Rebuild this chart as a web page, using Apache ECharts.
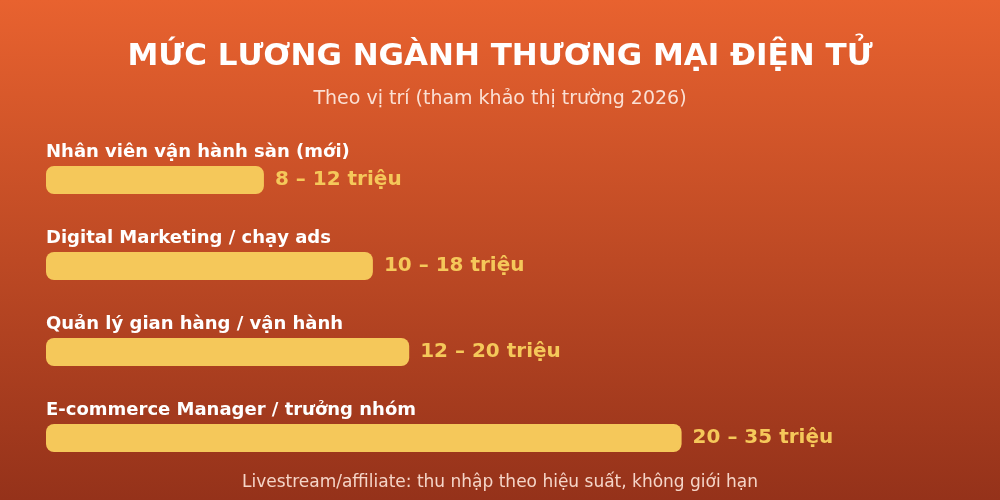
<!DOCTYPE html>
<html>
<head>
<meta charset="utf-8">
<script src="https://cdn.jsdelivr.net/npm/echarts@6/dist/echarts.min.js"></script>
<style>
  html, body { margin: 0; padding: 0; }
  body { width: 1000px; height: 500px; background: linear-gradient(180deg, #E8622F 0%, #95321A 100%); }
  #chart { width: 1000px; height: 500px; }
</style>
</head>
<body>
<div id="chart"></div>
<script>
// vị trí và mức lương (triệu đồng)
var positions = [
    'Nhân viên vận hành sàn (mới)',
    'Digital Marketing / chạy ads',
    'Quản lý gian hàng / vận hành',
    'E-commerce Manager / trưởng nhóm'
];
var salaryMin = [8, 10, 12, 20];
var salaryMax = [12, 18, 20, 35];

var FONT = '"DejaVu Sans", sans-serif';

var chart = echarts.init(document.getElementById('chart'));

var option = {
    backgroundColor: 'transparent',
    textStyle: {fontFamily: FONT},
    title: [
        {
            text: 'MỨC LƯƠNG NGÀNH THƯƠNG MẠI ĐIỆN TỬ',
            left: 'center',
            top: 36,
            textStyle: {color: '#ffffff', fontSize: 31, fontWeight: 'bold', fontFamily: FONT}
        },
        {
            text: 'Theo vị trí (tham khảo thị trường 2026)',
            left: 'center',
            top: 85,
            textStyle: {color: '#FBE0D4', fontSize: 19, fontWeight: 'normal', fontFamily: FONT}
        },
        {
            text: 'Livestream/affiliate: thu nhập theo hiệu suất, không giới hạn',
            left: 'center',
            top: 469,
            textStyle: {color: '#F5D5C8', fontSize: 17, fontWeight: 'normal', fontFamily: FONT}
        }
    ],
    grid: {left: 46, right: 46, top: 137, bottom: 19},
    xAxis: {
        type: 'value',
        min: 0,
        max: 50,
        show: false
    },
    yAxis: {
        type: 'category',
        data: positions,
        inverse: true,
        axisLine: {show: false},
        axisTick: {show: false},
        axisLabel: {
            inside: true,
            margin: 0,
            align: 'left',
            verticalAlign: 'bottom',
            padding: [0, 0, 19, 0],
            color: '#ffffff',
            fontSize: 18,
            fontWeight: 'bold',
            fontFamily: FONT
        }
    },
    series: [{
        type: 'bar',
        data: salaryMax,
        barWidth: 28,
        itemStyle: {color: '#F5C85A', borderRadius: 8},
        label: {
            show: true,
            position: 'right',
            distance: 11,
            color: '#F5C85A',
            fontSize: 20,
            fontWeight: 'bold',
            fontFamily: FONT,
            formatter: function (p) {
                return salaryMin[p.dataIndex] + ' – ' + salaryMax[p.dataIndex] + ' triệu';
            }
        },
        silent: true
    }],
    animation: false
};

chart.setOption(option);
</script>
</body>
</html>
